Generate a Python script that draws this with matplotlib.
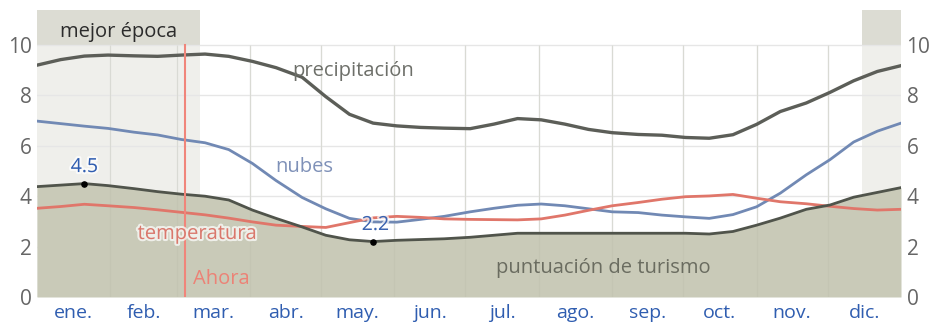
import numpy as np
import matplotlib.pyplot as plt
import matplotlib.patheffects as pe

plt.rcParams['font.family'] = ['Open Sans', 'DejaVu Sans']

# day of year for each sample
days = [0, 10, 20, 30, 41, 51, 61, 71, 81, 91, 101, 112, 122, 132, 142, 152, 162, 172, 183,
        193, 203, 213, 223, 233, 243, 254, 264, 274, 284, 294, 304, 314, 325, 335, 345, 355, 365]

precipitacion = [9.20, 9.42, 9.56, 9.60, 9.57, 9.55, 9.60, 9.64, 9.55, 9.35, 9.10, 8.72, 7.95,
                 7.25, 6.90, 6.79, 6.73, 6.70, 6.68, 6.86, 7.08, 7.03, 6.86, 6.65, 6.52, 6.45,
                 6.42, 6.33, 6.30, 6.44, 6.85, 7.36, 7.70, 8.12, 8.58, 8.95, 9.18]
nubes = [6.98, 6.88, 6.78, 6.69, 6.54, 6.43, 6.25, 6.12, 5.85, 5.30, 4.62, 3.95, 3.50, 3.12,
         2.98, 2.97, 3.08, 3.20, 3.38, 3.52, 3.64, 3.69, 3.62, 3.50, 3.38, 3.35, 3.25, 3.18,
         3.12, 3.27, 3.58, 4.12, 4.85, 5.45, 6.15, 6.58, 6.90]
temperatura = [3.52, 3.59, 3.68, 3.62, 3.55, 3.46, 3.36, 3.26, 3.13, 2.98, 2.85, 2.80, 2.76,
               2.95, 3.14, 3.20, 3.16, 3.10, 3.08, 3.07, 3.06, 3.10, 3.25, 3.44, 3.62, 3.75,
               3.88, 3.98, 4.01, 4.07, 3.92, 3.78, 3.70, 3.60, 3.51, 3.45, 3.48]
turismo = [4.38, 4.44, 4.50, 4.42, 4.30, 4.18, 4.08, 4.00, 3.85, 3.45, 3.12, 2.78, 2.45, 2.27,
           2.20, 2.25, 2.28, 2.31, 2.37, 2.45, 2.53, 2.53, 2.53, 2.53, 2.53, 2.53, 2.53, 2.53,
           2.50, 2.60, 2.85, 3.13, 3.48, 3.65, 3.96, 4.15, 4.34]

meses = ['ene.', 'feb.', 'mar.', 'abr.', 'may.', 'jun.', 'jul.', 'ago.', 'sep.', 'oct.', 'nov.', 'dic.']
inicio_mes = [0, 31, 59, 90, 120, 151, 181, 212, 243, 273, 304, 334, 365]
mejor_epoca = [(0, 69), (348.5, 365)]
ahora = 62.5

fig = plt.figure(figsize=(9.34, 3.23), dpi=100)
ax = fig.add_axes([37 / 934, 26 / 323, 864 / 934, 287 / 323])
top = 10 + 35 / 25.2
ax.set_xlim(0, 365)
ax.set_ylim(0, top)

# best season bands: header part above 10, light part below
for a, b in mejor_epoca:
    ax.axvspan(a, b, ymin=10 / top, ymax=1, color='#dcdcd3', lw=0, zorder=0)
    ax.axvspan(a, b, ymin=0, ymax=10 / top, color='#efefeb', lw=0, zorder=0)

# grid
for v in range(0, 11, 2):
    ax.axhline(v, color='#e6e6e6', lw=1, zorder=1)
ax.vlines(inicio_mes[1:-1], 0, 10, color='#e8e8e8', lw=1, zorder=1)

x = np.array(days)
ax.fill_between(x, 0, turismo, color='#c9cab8', lw=0, zorder=2)
ax.vlines(inicio_mes[1:-1], 0, 10, color='#b9baa9', lw=0.8, alpha=0.3, zorder=2.1)

ax.plot(x, precipitacion, color='#5c5e58', lw=2.4, zorder=3)
ax.plot(x, nubes, color='#7189b4', lw=2, zorder=3)
ax.plot(x, temperatura, color='#e0766a', lw=2, zorder=3)
ax.plot(x, turismo, color='#50544b', lw=2, zorder=4)

ax.axvline(ahora, ymax=10 / top, color='#f0857a', lw=1.5, zorder=5)

halo = [pe.withStroke(linewidth=3, foreground='white', alpha=0.7)]

# max / min of the tourism score
imax = int(np.argmax(turismo))
imin = int(np.argmin(turismo))
ax.scatter([x[imax], x[imin]], [turismo[imax], turismo[imin]], s=14, color='black', zorder=6)
ax.text(x[imax], turismo[imax] + 0.3, f'{turismo[imax]:.1f}', color='#2f5db0', fontsize=14,
        ha='center', va='bottom', path_effects=halo, zorder=6)
ax.text(x[imin] + 1, turismo[imin] + 0.3, f'{turismo[imin]:.1f}', color='#3a63b0', fontsize=14,
        ha='center', va='bottom', path_effects=halo, zorder=6)

fs = 14.5
ax.text(108, 8.95, 'precipitación', color='#6d6f69', fontsize=fs, ha='left', va='center', zorder=6)
ax.text(100.5, 5.15, 'nubes', color='#7f91b8', fontsize=fs, ha='left', va='center', zorder=6)
ax.text(42.5, 2.5, 'temperatura', color='#d9786c', fontsize=fs, ha='left', va='center',
        path_effects=halo, zorder=6)
ax.text(66, 0.7, 'Ahora', color='#ec8276', fontsize=fs, ha='left', va='center', zorder=6)
ax.text(194, 1.15, 'puntuación de turismo', color='#6a6c60', fontsize=fs, ha='left', va='center', zorder=6)
ax.text(34.5, 10.5, 'mejor época', color='#2b2b2b', fontsize=fs, ha='center', va='center', zorder=6)

ax.set_yticks(range(0, 11, 2))
ax.tick_params(axis='y', length=0, labelsize=15, labelcolor='#666666', labelleft=True,
               labelright=True, pad=4)
mid = [(inicio_mes[i] + inicio_mes[i + 1]) / 2 for i in range(12)]
ax.set_xticks(mid)
ax.set_xticklabels(meses)
ax.tick_params(axis='x', length=0, labelsize=14, labelcolor='#2f5db0', pad=5)
for s in ax.spines.values():
    s.set_visible(False)

fig.savefig('out.png', dpi=100)
